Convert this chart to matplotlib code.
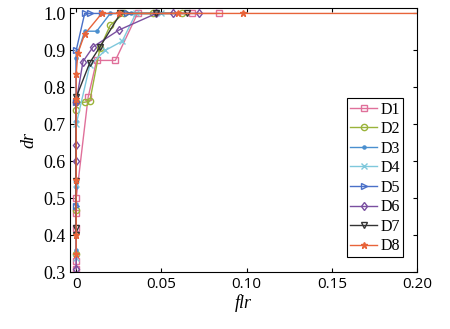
import matplotlib
matplotlib.use("Agg")
import matplotlib.pyplot as plt

# ROC-like curves, flr vs dr
labels = ["D1", "D2", "D3", "D4", "D5", "D6", "D7", "D8"]

flr_d1 = [0, 0, 0, 0, 0, 0.007, 0.012, 0.023, 0.036, 0.068, 0.084]
dr_d1 = [0.31, 0.33, 0.42, 0.46, 0.50, 0.773, 0.873, 0.873, 1.0, 1.0, 1.0]

flr_d2 = [0, 0, 0, 0, 0.005, 0.008, 0.014, 0.020, 0.028, 0.045, 0.062]
dr_d2 = [0.35, 0.47, 0.74, 0.76, 0.76, 0.763, 0.907, 0.968, 1.0, 1.0, 1.0]

flr_d3 = [0, 0, 0, 0, 0, 0.005, 0.012, 0.020, 0.032, 0.048]
dr_d3 = [0.36, 0.485, 0.53, 0.71, 0.88, 0.952, 0.952, 1.0, 1.0, 1.0]

flr_d4 = [0, 0, 0, 0.008, 0.017, 0.027, 0.035, 0.050]
dr_d4 = [0.34, 0.54, 0.70, 0.86, 0.90, 0.925, 1.0, 1.0]

flr_d5 = [0, 0, 0, 0.005, 0.008, 0.015, 0.030]
dr_d5 = [0.48, 0.76, 0.90, 1.0, 1.0, 1.0, 1.0]

flr_d6 = [0, 0, 0, 0, 0.004, 0.010, 0.025, 0.047, 0.057, 0.072]
dr_d6 = [0.31, 0.60, 0.645, 0.76, 0.87, 0.91, 0.955, 1.0, 1.0, 1.0]

flr_d7 = [0, 0, 0, 0, 0.008, 0.014, 0.026, 0.047, 0.065]
dr_d7 = [0.40, 0.42, 0.547, 0.773, 0.867, 0.91, 1.0, 1.0, 1.0]

flr_d8 = [0, 0, 0, 0, 0, 0.001, 0.005, 0.015, 0.025, 0.060, 0.098, 0.2]
dr_d8 = [0.35, 0.40, 0.55, 0.77, 0.835, 0.893, 0.944, 1.0, 1.0, 1.0, 1.0, 1.0]

xs = [flr_d1, flr_d2, flr_d3, flr_d4, flr_d5, flr_d6, flr_d7, flr_d8]
ys = [dr_d1, dr_d2, dr_d3, dr_d4, dr_d5, dr_d6, dr_d7, dr_d8]

colors = ["#e0709a", "#9ab33a", "#4a8fcf", "#7fc8dc", "#4a70c8", "#7a4fa0", "#333333", "#e8643a"]
markers = ["s", "o", ".", "x", ">", "d", "v", "*"]
filled = [False, False, True, True, False, False, False, True]

plt.rcParams["font.family"] = ["Liberation Serif", "DejaVu Serif"]

fig = plt.figure(figsize=(4.5, 3.29), dpi=100)
ax = fig.add_axes([0.156, 0.172, 0.771, 0.804])

for i in range(8):
    mev = slice(0, -1) if i == 7 else None
    ax.plot(xs[i], ys[i], color=colors[i], marker=markers[i], markersize=4.5,
            markerfacecolor=colors[i] if filled[i] else "none",
            markeredgecolor=colors[i], linewidth=1.0, label=labels[i],
            markevery=mev)

ax.set_xlim(-0.0035, 0.2)
ax.set_ylim(0.3, 1.015)
ax.set_xticks([0, 0.05, 0.10, 0.15, 0.20])
ax.set_xticklabels(["0", "0.05", "0.10", "0.15", "0.20"], family="Open Sans", fontsize=11)
ax.set_yticks([0.3, 0.4, 0.5, 0.6, 0.7, 0.8, 0.9, 1.0])
ax.set_yticklabels(["0.3", "0.4", "0.5", "0.6", "0.7", "0.8", "0.9", "1.0"], fontsize=13)
ax.tick_params(direction="in", top=True, right=True, length=3)
ax.set_xlabel("flr", style="italic", fontsize=13, labelpad=1)
ax.set_ylabel("dr", style="italic", fontsize=13)

leg = ax.legend(loc="lower right", bbox_to_anchor=(0.96, 0.057), fontsize=11.5,
                labelspacing=0.22, handlelength=1.7, handletextpad=0.2,
                borderpad=0.2, borderaxespad=0, fancybox=False, framealpha=1)
leg.get_frame().set_edgecolor("black")
leg.get_frame().set_linewidth(0.8)

fig.savefig("out.png", dpi=100)
